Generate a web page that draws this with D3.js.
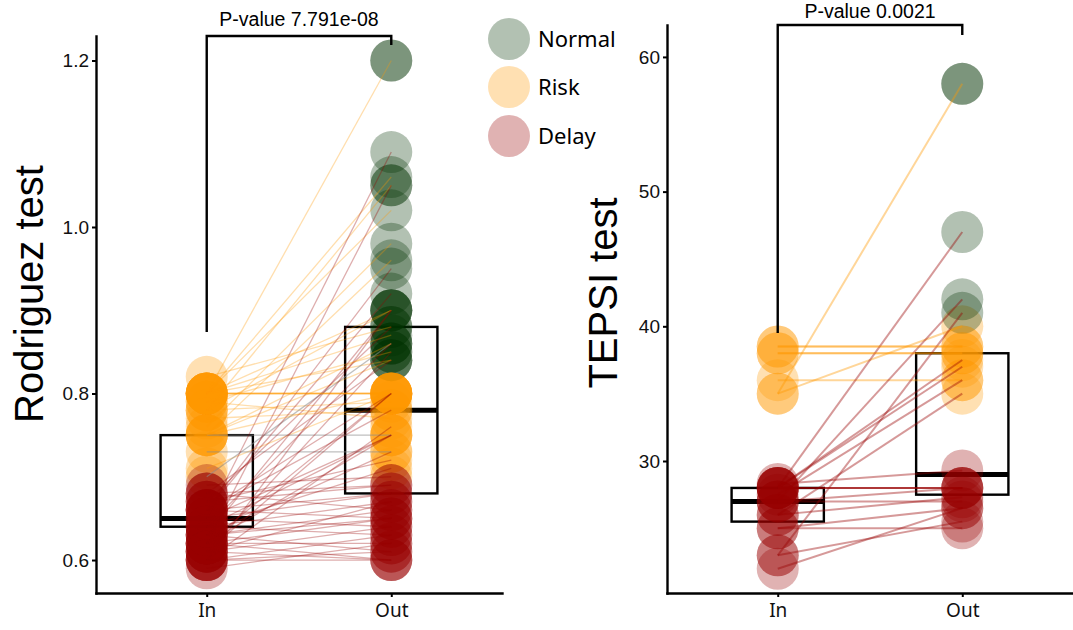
<!DOCTYPE html>
<html>
<head>
<meta charset="utf-8">
<script src="https://cdn.jsdelivr.net/npm/d3@7"></script>
<style>
body { margin: 0; background: #fff; }
svg { display: block; }
.yax .tick text { font-family: "Liberation Sans", Arial, sans-serif; font-size: 19px; fill: #111; }
.xax .tick text { font-family: "Noto Sans", sans-serif; font-size: 19px; fill: #111; }
</style>
</head>
<body>
<svg id="chart" width="1073" height="630"></svg>
<script>
// categories
const groups = ["In", "Out"]
const levels = ["Normal", "Risk", "Delay"]
const levelColors = ["#003300", "#ff9900", "#990000"]

// Rodriguez test, one entry per child (In -> Out)
const rodIn = [0.80, 0.80, 0.78, 0.80, 0.76, 0.75, 0.80, 0.78, 0.82, 0.80,
               0.79, 0.80, 0.80, 0.80, 0.78, 0.77, 0.75, 0.71, 0.79, 0.75,
               0.73, 0.70, 0.65, 0.62, 0.66, 0.60, 0.63, 0.67, 0.64, 0.61,
               0.68, 0.66, 0.62, 0.66, 0.60, 0.65, 0.63, 0.67, 0.64, 0.69,
               0.68, 0.66, 0.65, 0.64, 0.63, 0.62, 0.66, 0.61, 0.60, 0.64,
               0.62, 0.60, 0.61, 0.60, 0.59, 0.68, 0.67, 0.65, 0.63, 0.61,
               0.80, 0.80, 0.75, 0.75, 0.62, 0.64, 0.61, 0.66, 0.62, 0.63]
const rodOut = [1.20, 1.06, 1.05, 1.02, 0.98, 0.96, 0.90, 0.90, 0.88, 0.87,
                0.85, 0.84, 0.80, 0.80, 0.79, 0.78, 0.84, 0.80, 0.77, 0.75,
                0.73, 0.86, 1.09, 1.05, 0.95, 0.90, 0.90, 0.88, 0.86, 0.85,
                0.84, 0.92, 0.80, 0.78, 0.76, 0.75, 0.73, 0.72, 0.71, 0.70,
                0.69, 0.68, 0.68, 0.67, 0.66, 0.65, 0.65, 0.64, 0.63, 0.63,
                0.62, 0.61, 0.60, 0.60, 0.62, 0.66, 0.69, 0.64, 0.61, 0.67,
                0.80, 0.80, 0.86, 0.80, 0.75, 0.75, 0.80, 0.80, 0.60, 0.65]
const rodGrey = [19, 20, 21]
const rodOutliers = [1.2]
const rodBoxIn = [0.64, 0.65, 0.75]
const rodBoxOut = [0.68, 0.78, 0.88]
const rodCuts = [0.70, 0.83]
const rodTicks = [0.6, 0.8, 1.0, 1.2]
const rodBracketFrom = 0.874
const rodP = "P-value 7.791e-08"

// TEPSI test
const tepIn = [35, 35, 36, 38.5, 38, 28, 27, 23, 28, 27.5,
               26, 28.3, 28, 27, 27, 26, 25, 25, 23, 22,
               38, 38.5, 28, 28, 28]
const tepOut = [58, 40, 36, 38.5, 38, 47, 42, 41, 37, 36,
                35, 29.3, 28, 28, 27, 27.3, 25, 26.5, 25.5, 26.5,
                38, 38.5, 28, 28, 37.5]
const tepGrey = []
const tepOutliers = [58]
const tepBoxIn = [25.5, 27, 28]
const tepBoxOut = [27.5, 29, 38]
const tepCuts = [32, 40.5]
const tepTicks = [30, 40, 50, 60]
const tepBracketFrom = 39.5
const tepP = "P-value 0.0021"

let svg = d3.select("#chart")
let bottom = 593

function category(v, cuts) {
    return v < cuts[0] ? 2 : v < cuts[1] ? 1 : 0
}

function drawPanel(p) {
    let x = d3.scalePoint().domain(groups).range(p.xRange).padding(0.6)
    let y = d3.scaleLinear().domain(p.yDomain).range([bottom, p.top])
    let half = x.step() * 0.25
    let g = svg.append("g")

    // boxes (no whiskers), under the points
    let boxes = [["In", p.boxIn], ["Out", p.boxOut]]
    boxes.forEach(([k, b]) => {
        g.append("rect")
            .attr("x", x(k) - half)
            .attr("y", y(b[2]))
            .attr("width", 2 * half)
            .attr("height", y(b[0]) - y(b[2]))
            .attr("fill", "none")
            .attr("stroke", "#000")
            .attr("stroke-width", 2.4)
        g.append("line")
            .attr("x1", x(k) - half).attr("x2", x(k) + half)
            .attr("y1", y(b[1])).attr("y2", y(b[1]))
            .attr("stroke", "#000")
            .attr("stroke-width", 5)
    })

    let pts = []
    p.inV.forEach(v => pts.push({ k: "In", v: v }))
    p.outV.forEach(v => pts.push({ k: "Out", v: v }))
    p.outliers.forEach(v => pts.push({ k: "Out", v: v }))

    g.append("g").selectAll("circle")
        .data(pts)
        .enter().append("circle")
            .attr("cx", d => x(d.k))
            .attr("cy", d => y(d.v))
            .attr("r", 21)
            .style("fill", d => levelColors[category(d.v, p.cuts)])
            .style("fill-opacity", 0.3)

    // paired lines, coloured by the In level
    g.append("g").selectAll("line")
        .data(p.inV.map((v, i) => ({ a: v, b: p.outV[i], grey: p.grey.includes(i) })))
        .enter().append("line")
            .attr("x1", x("In")).attr("x2", x("Out"))
            .attr("y1", d => y(d.a)).attr("y2", d => y(d.b))
            .style("stroke", d => d.grey ? "#8c8c8c" : levelColors[category(d.a, p.cuts)])
            .style("stroke-opacity", d => d.grey ? 0.55 : p.lineOpacity)
            .style("stroke-width", p.lineWidth)

    // axes
    let gY = g.append("g")
        .attr("class", "yax")
        .attr("transform", "translate(" + p.xRange[0] + ",0)")
        .call(d3.axisLeft(y).tickValues(p.ticks).tickFormat(p.fmt)
            .tickSize(4).tickPadding(3).tickSizeOuter(0))
    let gX = g.append("g")
        .attr("class", "xax")
        .attr("transform", "translate(0," + bottom + ")")
        .call(d3.axisBottom(x).tickSize(4).tickPadding(6.5).tickSizeOuter(0))
    ;[gY, gX].forEach(a => {
        a.select(".domain").attr("stroke", "#000").attr("stroke-width", 2.4).attr("stroke-linecap", "square")
        a.selectAll(".tick line").attr("stroke", "#000").attr("stroke-width", 2)
    })

    // y title
    g.append("text")
        .attr("transform", "translate(" + p.titleX + "," + p.titleY + ") rotate(-90)")
        .style("text-anchor", "middle")
        .style("font-family", "Liberation Sans, Arial, sans-serif")
        .style("font-size", "40px")
        .text(p.title)

    // significance bracket
    let top = p.top
    g.append("path")
        .attr("d", "M" + x("In") + "," + y(p.bracketFrom) + "V" + top + "H" + x("Out") + "V" + (top + p.tipLen))
        .attr("fill", "none")
        .attr("stroke", "#000")
        .attr("stroke-width", 2.4)
    g.append("text")
        .attr("x", (x("In") + x("Out")) / 2)
        .attr("y", p.pY)
        .style("text-anchor", "middle")
        .style("font-family", "Liberation Sans, Arial, sans-serif")
        .style("font-size", "19.5px")
        .text(p.pText)
}

drawPanel({
    xRange: [96, 502], yDomain: [0.5604, 1.2294], top: 36,
    inV: rodIn, outV: rodOut, grey: rodGrey, outliers: rodOutliers,
    boxIn: rodBoxIn, boxOut: rodBoxOut, cuts: rodCuts,
    ticks: rodTicks, fmt: d3.format(".1f"),
    lineWidth: 1.3, lineOpacity: 0.32,
    title: "Rodriguez test", titleX: 43, titleY: 294,
    bracketFrom: rodBracketFrom, tipLen: 9, pText: rodP, pY: 26
})

drawPanel({
    xRange: [667, 1073], yDomain: [20.2, 62.37], top: 25,
    inV: tepIn, outV: tepOut, grey: tepGrey, outliers: tepOutliers,
    boxIn: tepBoxIn, boxOut: tepBoxOut, cuts: tepCuts,
    ticks: tepTicks, fmt: d3.format("d"),
    lineWidth: 2, lineOpacity: 0.4,
    title: "TEPSI test", titleX: 617, titleY: 293,
    bracketFrom: tepBracketFrom, tipLen: 10, pText: tepP, pY: 18
})

// legend
let legend = svg.append("g")
    .selectAll("g")
    .data(levels)
    .enter().append("g")
        .attr("transform", (d, i) => "translate(509," + [39, 87, 136][i] + ")")
legend.append("circle")
    .attr("r", 21)
    .style("fill", (d, i) => levelColors[i])
    .style("fill-opacity", 0.3)
legend.append("text")
    .attr("x", 29)
    .attr("y", 8)
    .style("font-family", "Noto Sans, sans-serif")
    .style("font-size", "22px")
    .text(d => d)
</script>
</body>
</html>
